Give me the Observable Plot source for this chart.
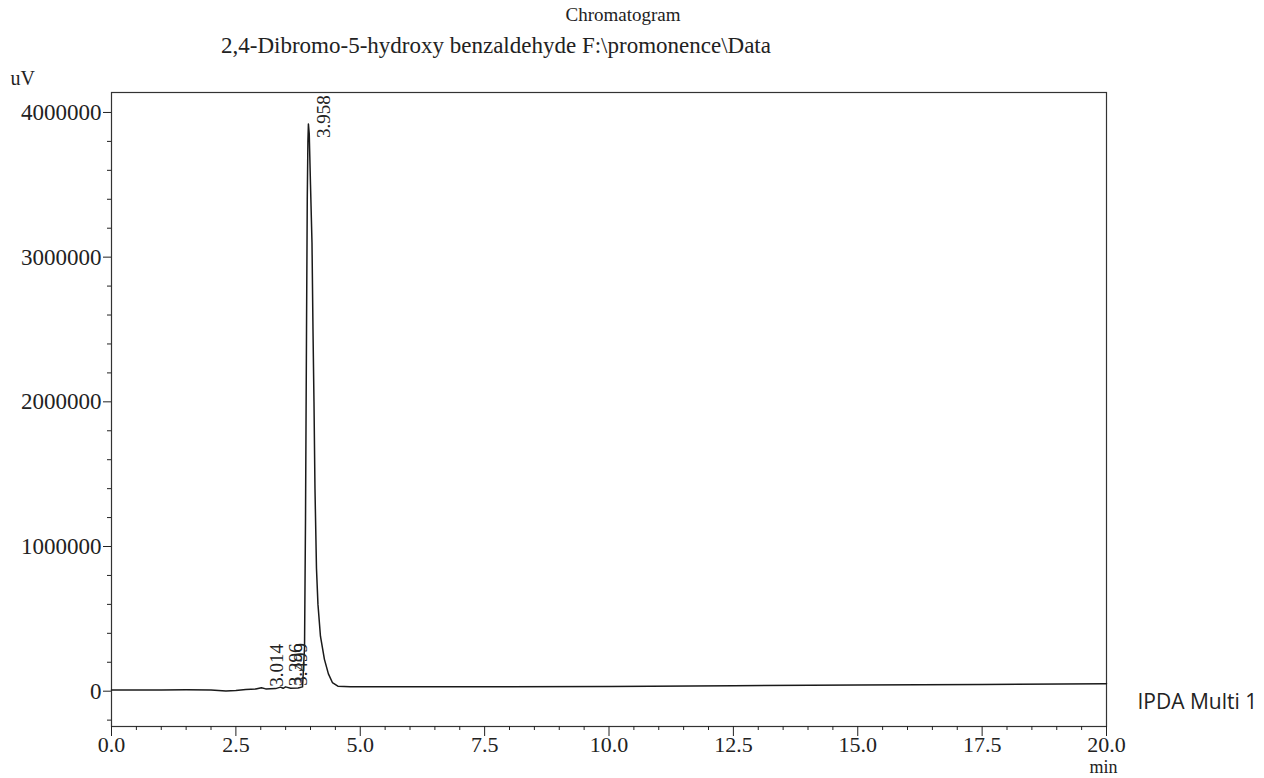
<!DOCTYPE html>
<html>
<head>
<meta charset="utf-8">
<script src="https://cdn.jsdelivr.net/npm/d3@7"></script>
<script src="https://cdn.jsdelivr.net/npm/@observablehq/plot@0.6"></script>
<style>
  html, body { margin: 0; padding: 0; background: #ffffff; }
  #chart svg { display: block; }
</style>
</head>
<body>
<div id="chart"></div>
<script>
// Retention time (min) and detector signal (uV)
const times = [0, 0.5, 1.0, 1.5, 2.0, 2.3, 2.5, 2.7, 2.9, 3.014, 3.1, 3.3, 3.396, 3.45, 3.499, 3.6, 3.75, 3.84, 3.88, 3.90, 3.92, 3.935, 3.948, 3.958, 3.975, 4.0, 4.03, 4.05, 4.07, 4.09, 4.12, 4.15, 4.2, 4.28, 4.36, 4.44, 4.55, 4.8, 5.5, 7.0, 10.0, 12.5, 15.0, 17.5, 20.0];
const signal = [8000, 9000, 9000, 10000, 9000, 2000, 4000, 12000, 15000, 24000, 16000, 18000, 28000, 20000, 30000, 20000, 22000, 30000, 300000, 1200000, 2500000, 3400000, 3800000, 3920000, 3850000, 3500000, 3100000, 2500000, 2000000, 1400000, 850000, 600000, 380000, 220000, 120000, 60000, 35000, 30000, 30000, 30000, 33000, 38000, 42000, 47000, 52000];

const peakTimes = [3.014, 3.396, 3.499, 3.958];
const peakLabels = ["3.014", "3.396", "3.499", "3.958"];
const peakHeights = [24000, 28000, 30000, 3920000];

const yMajor = [0, 1000000, 2000000, 3000000, 4000000];
const yMinor = [-200000, 200000, 400000, 600000, 800000, 1200000, 1400000, 1600000, 1800000, 2200000, 2400000, 2600000, 2800000, 3200000, 3400000, 3600000, 3800000];
const xMajor = [0, 2.5, 5.0, 7.5, 10.0, 12.5, 15.0, 17.5, 20.0];
const xMinor = [0.5, 1.0, 1.5, 2.0, 3.0, 3.5, 4.0, 4.5, 5.5, 6.0, 6.5, 7.0, 8.0, 8.5, 9.0, 9.5, 10.5, 11.0, 11.5, 12.0, 13.0, 13.5, 14.0, 14.5, 15.5, 16.0, 16.5, 17.0, 18.0, 18.5, 19.0, 19.5];

const title = "Chromatogram";
const subtitle = "2,4-Dibromo-5-hydroxy benzaldehyde F:\\promonence\\Data";
const yUnit = "uV";
const xUnit = "min";
const channel = "IPDA Multi 1";

const data = times.map((t, i) => ({t, v: signal[i]}));
const peaks = peakTimes.map((t, i) => ({t, v: peakHeights[i], label: peakLabels[i]}));
const smallPeaks = peaks.filter(d => d.v < 1000000);
const bigPeaks = peaks.filter(d => d.v >= 1000000);

const chart = Plot.plot({
  width: 1264,
  height: 778,
  marginLeft: 111,
  marginRight: 158,
  marginTop: 92,
  marginBottom: 52,
  style: {fontFamily: "Liberation Serif", fontSize: "23px", background: "#ffffff", color: "#222"},
  x: {domain: [0, 20]},
  y: {domain: [-244000, 4138000]},
  marks: [
    Plot.frame({stroke: "#333", strokeWidth: 1.2}),
    Plot.axisY({ticks: yMajor, tickSize: 8, tickPadding: 2, tickFormat: d => String(d), label: null, fontSize: 23}),
    Plot.axisY({ticks: yMinor, tickSize: 4, tickFormat: () => "", label: null}),
    Plot.axisX({ticks: xMajor, tickSize: 10, tickPadding: 0, tickFormat: d3.format(".1f"), label: null, fontSize: 22}),
    Plot.axisX({ticks: xMinor, tickSize: 4, tickFormat: () => "", label: null}),
    Plot.line(data, {x: "t", y: "v", stroke: "#1a1a1a", strokeWidth: 1.5}),
    Plot.text(bigPeaks, {x: "t", y: "v", text: "label", rotate: -90, textAnchor: "start", lineAnchor: "middle", dx: 15, dy: 14, fontSize: 19, fill: "#222"}),
    Plot.text(smallPeaks, {x: "t", y: "v", text: "label", rotate: -90, textAnchor: "start", lineAnchor: "middle", dx: 15, dy: -1, fontSize: 19, fill: "#222"}),
    Plot.text([title], {frameAnchor: "top", dx: 14, dy: -72, lineAnchor: "bottom", fontSize: 19, fill: "#222"}),
    Plot.text([subtitle], {frameAnchor: "top", dx: -113, dy: -40, lineAnchor: "bottom", fontSize: 23, fill: "#222"}),
    Plot.text([yUnit], {frameAnchor: "top-left", textAnchor: "start", dx: -101, dy: -8, lineAnchor: "bottom", fontSize: 20, fill: "#222"}),
    Plot.text([xUnit], {frameAnchor: "bottom-right", textAnchor: "middle", dx: -3, dy: 46, lineAnchor: "bottom", fontSize: 18, fill: "#222"}),
    Plot.text([channel], {frameAnchor: "bottom-right", textAnchor: "start", dx: 31, dy: -18, lineAnchor: "bottom", fontSize: 21, fontFamily: "Open Sans", fill: "#222"})
  ]
});
document.getElementById("chart").appendChild(chart);
</script>
</body>
</html>
